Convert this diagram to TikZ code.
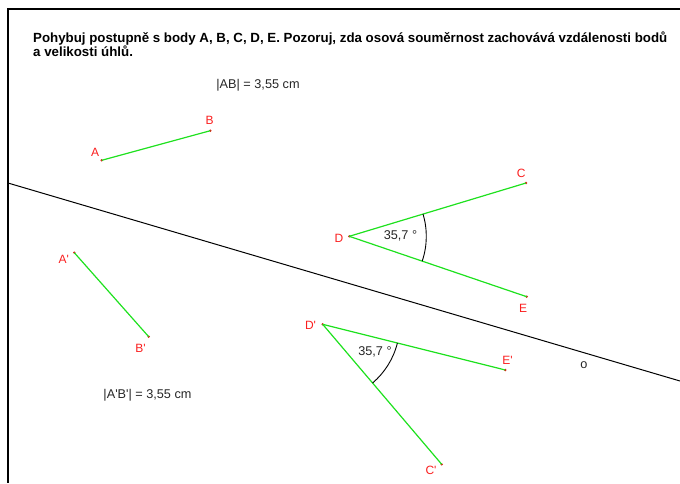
\documentclass[tikz,border=0pt]{standalone}
\usepackage{fontspec}
\setmainfont{Liberation Sans}
\definecolor{segg}{RGB}{30,225,30}
\definecolor{ptred}{RGB}{230,20,20}
\definecolor{lblred}{RGB}{250,30,30}
\begin{document}
\begin{tikzpicture}[x=1pt,y=-1pt,
  pt/.style={circle, fill=ptred, inner sep=0pt, minimum size=2.6pt},
  lbl/.style={text=lblred, font=\fontsize{12}{14}\selectfont, inner sep=0pt},
  txt/.style={text=black!85, font=\fontsize{12.7}{15}\selectfont, inner sep=0pt},
  ttl/.style={anchor=base west, inner sep=0pt, font=\bfseries\fontsize{13.3}{15}\selectfont},
  seg/.style={draw=segg, line width=1.2pt},
  arcline/.style={draw=black, line width=0.9pt},
  frame/.style={draw=black, line width=2.4pt}]
\useasboundingbox (0,0) rectangle (680,483);
% frame
\coordinate (F1) at (680,9);
\coordinate (F2) at (8,9);
\coordinate (F3) at (8,483);
\draw[frame] (F1) -- (F2) -- (F3);
% title
\node[ttl] (title1) at (33,42.3) {Pohybuj postupně s body A, B, C, D, E. Pozoruj, zda osová souměrnost zachovává vzdálenosti bodů};
\node[ttl] (title2) at (33,56) {a velikosti úhlů.};
% axis
\coordinate (o1) at (8,183);
\coordinate (o2) at (680,381);
\draw[black, line width=1pt] (o1) -- (o2);
\node[txt] (olbl) at (584,365.5) {o};
% points
\node[pt] (A) at (101.7,160.3) {};
\node[pt] (B) at (210.3,130.7) {};
\node[pt] (C) at (526,183) {};
\node[pt] (D) at (349.3,236.3) {};
\node[pt] (E) at (526.7,296.7) {};
\node[pt] (A1) at (74.3,252.7) {};
\node[pt] (B1) at (148.7,336.7) {};
\node[pt] (C1) at (441.7,464.3) {};
\node[pt] (D1) at (322.7,324.3) {};
\node[pt] (E1) at (505.3,370) {};
% segments
\draw[seg] (A.center) -- (B.center);
\draw[seg] (D.center) -- (C.center);
\draw[seg] (D.center) -- (E.center);
\draw[seg] (A1.center) -- (B1.center);
\draw[seg] (D1.center) -- (C1.center);
\draw[seg] (D1.center) -- (E1.center);
% angle arcs (y axis points down, so angles are mirrored)
\draw[arcline] (D.center) ++(-16.8:77) arc[start angle=-16.8, end angle=18.8, radius=77];
\draw[arcline] (D1.center) ++(14.05:77) arc[start angle=14.05, end angle=49.6, radius=77];
% labels
\node[lbl] (lA) at (95.2,152) {A};
\node[lbl] (lB) at (209.7,120) {B};
\node[lbl] (lC) at (521.3,173.3) {C};
\node[lbl] (lD) at (339,238.7) {D};
\node[lbl] (lE) at (523,308) {E};
\node[lbl] (lA1) at (63.7,259.5) {A\textquotesingle};
\node[lbl] (lB1) at (140.5,348) {B\textquotesingle};
\node[lbl] (lC1) at (431,470.7) {C\textquotesingle};
\node[lbl] (lD1) at (310.5,325) {D\textquotesingle};
\node[lbl] (lE1) at (507.5,360) {E\textquotesingle};
% texts
\node[txt] (ang1) at (400.5,236) {35,7 °};
\node[txt] (ang2) at (375,352) {35,7 °};
\node[txt] (dAB) at (258,85) {|AB| = 3,55 cm};
\node[txt] (dA1B1) at (147.5,395.5) {|A\textquotesingle B\textquotesingle| = 3,55 cm};
\end{tikzpicture}
\end{document}
